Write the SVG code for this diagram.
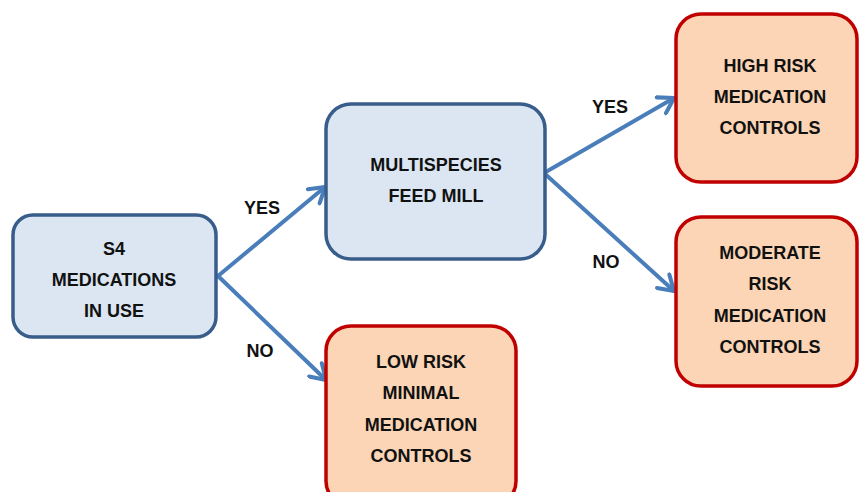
<svg xmlns="http://www.w3.org/2000/svg" width="859" height="492" viewBox="0 0 859 492">
<defs>
<style>
.blue{fill:#dce6f2;stroke:#385d8a;stroke-width:3.5}
.red{fill:#fbd5b5;stroke:#c00000;stroke-width:3.5}
text{font-family:"Liberation Sans",Arial,sans-serif;font-weight:bold;font-size:18px;fill:#111111;text-anchor:middle}
.conn{stroke:#4a7ebb;stroke-width:4;fill:none;stroke-linecap:round}
</style>
<marker id="arr" viewBox="0 0 12 12" refX="10" refY="6" markerWidth="5.5" markerHeight="5.5" orient="auto" markerUnits="strokeWidth">
<polyline points="2,1 10,6 2,11" fill="none" stroke="#4a7ebb" stroke-width="2.2" stroke-linecap="round" stroke-linejoin="round"/>
</marker>
</defs>
<rect width="859" height="492" fill="#ffffff"/>
<g id="connectors">
<line class="conn" x1="218" y1="276" x2="325" y2="187" marker-end="url(#arr)"/>
<line class="conn" x1="218" y1="276" x2="326" y2="380" marker-end="url(#arr)"/>
<line class="conn" x1="544" y1="173" x2="674" y2="98" marker-end="url(#arr)"/>
<line class="conn" x1="544" y1="173" x2="674" y2="291" marker-end="url(#arr)"/>
<text x="262" y="214">YES</text>
<text x="260" y="357">NO</text>
<text x="610" y="113">YES</text>
<text x="606" y="268">NO</text>
</g>
<g id="s4">
<rect class="blue" x="13" y="215" width="203" height="122" rx="20"/>
<text x="114" y="255">S4</text>
<text x="114" y="286">MEDICATIONS</text>
<text x="114" y="317">IN USE</text>
</g>
<g id="feedmill">
<rect class="blue" x="326" y="104" width="219" height="155" rx="25"/>
<text x="436" y="171">MULTISPECIES</text>
<text x="436" y="202">FEED MILL</text>
</g>
<g id="highrisk">
<rect class="red" x="676" y="14" width="181" height="168" rx="25"/>
<text x="770" y="72">HIGH RISK</text>
<text x="770" y="103">MEDICATION</text>
<text x="770" y="134">CONTROLS</text>
</g>
<g id="moderate">
<rect class="red" x="676" y="217" width="181" height="169" rx="25"/>
<text x="770" y="259">MODERATE</text>
<text x="770" y="290">RISK</text>
<text x="770" y="322">MEDICATION</text>
<text x="770" y="353">CONTROLS</text>
</g>
<g id="lowrisk">
<rect class="red" x="326" y="326" width="190" height="180" rx="25"/>
<text x="421" y="368">LOW RISK</text>
<text x="421" y="399">MINIMAL</text>
<text x="421" y="431">MEDICATION</text>
<text x="421" y="462">CONTROLS</text>
</g>
</svg>
